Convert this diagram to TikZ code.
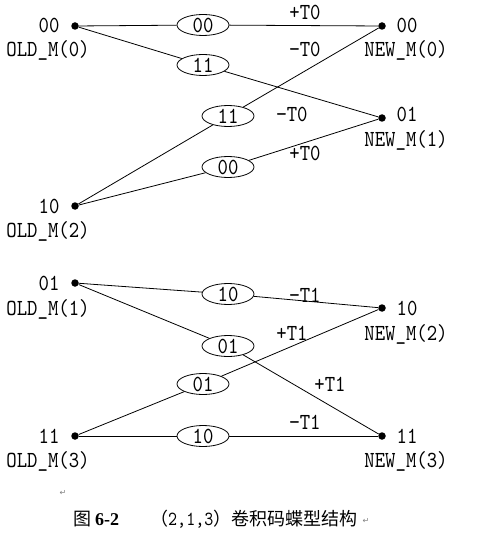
\documentclass[tikz,border=0pt]{standalone}
\usepackage{fontspec}
\usetikzlibrary{shapes.geometric}
\newfontfamily\lab{lmmono10-regular}[Extension=.otf,FakeStretch=0.86]
\newfontfamily\cjk{Noto Sans CJK SC}
\newfontfamily\tnr{Liberation Serif}
\newfontfamily\dv{DejaVu Sans}
\newcommand\labfont{\lab\fontsize{23}{23}\selectfont}
\newcommand\capfont{\cjk\fontsize{18}{18}\selectfont}
\newcommand\capnum{\lab\fontsize{20}{20}\selectfont}
\newcommand\markfont{\dv\fontsize{8}{8}\selectfont\color{gray}}
\begin{document}
\begin{tikzpicture}[x=1pt,y=-1pt,
  dot/.style={circle,fill=black,inner sep=0pt,minimum size=7.5pt},
  ell/.style={ellipse,draw,line width=0.8pt,minimum width=52pt,minimum height=21pt,inner sep=0pt,font=\labfont},
  lbl/.style={anchor=base,inner sep=0pt,font=\labfont},
  wire/.style={line width=0.8pt},
  captxt/.style={anchor=base west,inner sep=0pt,font=\capfont},
  pmark/.style={inner sep=0pt,font=\markfont}]
\useasboundingbox (0,0) rectangle (490,537);
% ---- top butterfly ----
\node[dot] (o0) at (75,26) {};
\node[dot] (o2) at (75,206) {};
\node[dot] (n0) at (382,26) {};
\node[dot] (n1) at (382,118) {};
\node[ell] (ea) at (203,25) {00};
\node[ell] (eb) at (203,65) {11};
\node[ell] (ec) at (228,116) {11};
\node[ell] (ed) at (228,167) {00};
\draw[wire] (o0) -- (ea); \draw[wire] (ea) -- (n0);
\draw[wire] (o0) -- (eb); \draw[wire] (eb) -- (n1);
\draw[wire] (o2) -- (ec); \draw[wire] (ec) -- (n0);
\draw[wire] (o2) -- (ed); \draw[wire] (ed) -- (n1);
\node[lbl] (lo0) at (49,33) {00};
\node[lbl] (mo0) at (48,57) {OLD\_M(0)};
\node[lbl] (lo2) at (49,213) {10};
\node[lbl] (mo2) at (48,237) {OLD\_M(2)};
\node[lbl] (ln0) at (407,33) {00};
\node[lbl] (mn0) at (406,57) {NEW\_M(0)};
\node[lbl] (ln1) at (407,122) {01};
\node[lbl] (mn1) at (406,147) {NEW\_M(1)};
\node[lbl] (t1) at (305,20) {+T0};
\node[lbl] (t2) at (305,57) {−T0};
\node[lbl] (t3) at (292,122) {−T0};
\node[lbl] (t4) at (305,161) {+T0};
% ---- bottom butterfly ----
\node[dot] (o1) at (75,283) {};
\node[dot] (o3) at (75,436) {};
\node[dot] (n2) at (382,308) {};
\node[dot] (n3) at (382,436) {};
\node[ell] (ee) at (228,294) {10};
\node[ell] (ef) at (228,346) {01};
\node[ell] (eg) at (203,384) {01};
\node[ell] (eh) at (203,436) {10};
\draw[wire] (o1) -- (ee); \draw[wire] (ee) -- (n2);
\draw[wire] (o1) -- (ef); \draw[wire] (ef) -- (n3);
\draw[wire] (o3) -- (eg); \draw[wire] (eg) -- (n2);
\draw[wire] (o3) -- (eh); \draw[wire] (eh) -- (n3);
\node[lbl] (lo1) at (49,290) {01};
\node[lbl] (mo1) at (48,315) {OLD\_M(1)};
\node[lbl] (lo3) at (49,443) {11};
\node[lbl] (mo3) at (48,467) {OLD\_M(3)};
\node[lbl] (ln2) at (407,315) {10};
\node[lbl] (mn2) at (406,340) {NEW\_M(2)};
\node[lbl] (ln3) at (407,443) {11};
\node[lbl] (mn3) at (406,467) {NEW\_M(3)};
\node[lbl] (t5) at (305,302) {−T1};
\node[lbl] (t6) at (292,340) {+T1};
\node[lbl] (t7) at (330,391) {+T1};
\node[lbl] (t8) at (305,429) {−T1};
% ---- caption ----
\node[pmark] (pm1) at (63,493) {↵};
\node[captxt] (c1) at (73,525) {图 {\tnr\bfseries 6-2}};
\node[captxt] (c2) at (150,525) {（{\capnum 2,1,3}）};
\node[captxt] (c3) at (231,525) {卷积码蝶型结构};
\node[pmark] (pm2) at (366,521) {↵};
\end{tikzpicture}
\end{document}
